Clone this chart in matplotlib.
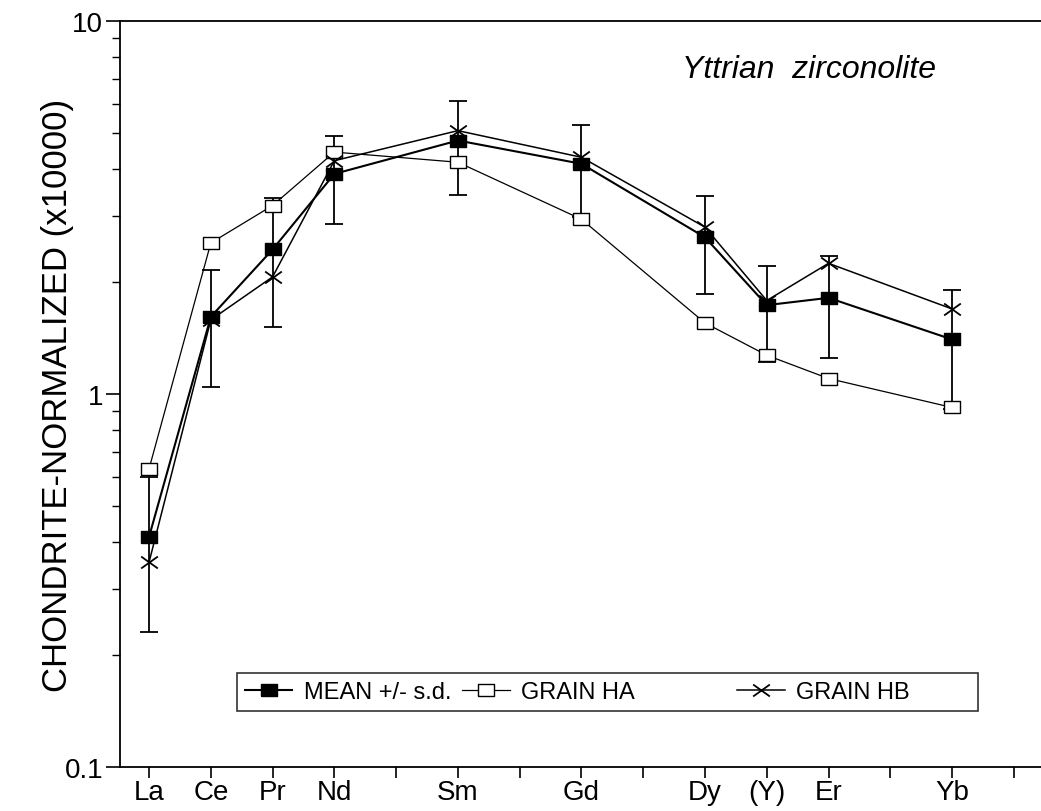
import numpy as np
import matplotlib
matplotlib.use('Agg')
import matplotlib.pyplot as plt
from matplotlib.ticker import FixedLocator, NullFormatter, LogLocator

plt.rcParams['font.family'] = ['Liberation Sans', 'DejaVu Sans']

# REE positions (index along the chondrite-normalized pattern)
tick_labels = ['La', 'Ce', 'Pr', 'Nd', '', 'Sm', '', 'Gd', '', 'Dy', '(Y)', 'Er', '', 'Yb', '']
elem_pos = [0, 1, 2, 3, 5, 7, 9, 10, 11, 13]  # La Ce Pr Nd Sm Gd Dy (Y) Er Yb

mean_vals = [0.414, 1.61, 2.44, 3.89, 4.78, 4.14, 2.63, 1.73, 1.81, 1.40]
sd_low = [0.23, 1.046, 1.51, 2.86, 3.42, 2.98, 1.85, 1.22, 1.25, 0.91]
sd_high = [0.60, 2.15, 3.35, 4.90, 6.11, 5.27, 3.39, 2.20, 2.35, 1.90]
grain_ha = [0.63, 2.54, 3.20, 4.45, 4.18, 2.94, 1.55, 1.27, 1.10, 0.92]
grain_hb = [0.354, 1.58, 2.06, 4.22, 5.08, 4.31, 2.80, 1.78, 2.24, 1.69]

# slightly flattened marker shapes, like the original plot
rect = [(-1.4, -1), (1.4, -1), (1.4, 1), (-1.4, 1), (-1.4, -1)]
flat_x = matplotlib.path.Path(
    [(-1.4, -1), (1.4, 1), (-1.4, 1), (1.4, -1)],
    [matplotlib.path.Path.MOVETO, matplotlib.path.Path.LINETO,
     matplotlib.path.Path.MOVETO, matplotlib.path.Path.LINETO])

fig = plt.figure(figsize=(10.41, 8.12), dpi=100)
ax = fig.add_axes([0.1153, 0.0542, 0.8847, 0.9188])

mean = np.array(mean_vals)
yerr = [mean - np.array(sd_low), np.array(sd_high) - mean]
ax.errorbar(elem_pos, mean, yerr=yerr, fmt='none', ecolor='black',
            elinewidth=1.3, capsize=6.5, capthick=1.3, zorder=2)

ax.plot(elem_pos, grain_ha, color='black', lw=0.9, marker=rect, ms=12,
        mfc='white', mec='black', mew=1.0, label='GRAIN HA', zorder=3)
ax.plot(elem_pos, grain_hb, color='black', lw=1.1, marker=flat_x, ms=12,
        mec='black', mew=1.3, label='GRAIN HB', zorder=3)
ax.plot(elem_pos, mean_vals, color='black', lw=1.5, marker=rect, ms=12,
        mfc='black', mec='black', label='MEAN +/- s.d.', zorder=4)

ax.set_yscale('log')
ax.set_ylim(0.1, 10)
ax.set_xlim(-0.47, 14.44)

ax.yaxis.set_major_locator(FixedLocator([0.1, 1, 10]))
ax.yaxis.set_minor_locator(LogLocator(base=10, subs=np.arange(2, 10)))
ax.yaxis.set_minor_formatter(NullFormatter())
ax.set_yticklabels(['0.1', '1', '10'], fontsize=20)

ax.set_xticks(range(len(tick_labels)))
ax.set_xticklabels(tick_labels, fontsize=20)

ax.tick_params(axis='y', which='major', direction='out', length=10, width=1.2, pad=2)
ax.tick_params(axis='y', which='minor', direction='out', length=6, width=1.0)
ax.tick_params(axis='x', direction='out', length=8, width=1.2, pad=1)

ax.spines['right'].set_visible(False)
for s in ['left', 'bottom', 'top']:
    ax.spines[s].set_linewidth(1.3)

ax.set_ylabel('CHONDRITE-NORMALIZED (x10000)', fontsize=25, va='center')
ax.yaxis.set_label_coords(-0.068, 0.5)

ax.text(0.61, 0.935, 'Yttrian  zirconolite', transform=ax.transAxes,
        fontsize=23, style='italic', ha='left', va='center')

handles, labels = ax.get_legend_handles_labels()
order = [2, 0, 1]
leg_labels = ['MEAN +/- s.d.', 'GRAIN HA' + ' ' * 14, 'GRAIN HB' + ' ' * 9]
leg = ax.legend([handles[i] for i in order], leg_labels,
                loc='lower left', bbox_to_anchor=(0.127, 0.075),
                borderaxespad=0, ncol=3, fontsize=17, frameon=True,
                fancybox=False, edgecolor='black', handlelength=2.0,
                handletextpad=0.5, borderpad=0.35, columnspacing=0.45)
leg.get_frame().set_linewidth(1.2)

fig.savefig('out.png', dpi=100)
